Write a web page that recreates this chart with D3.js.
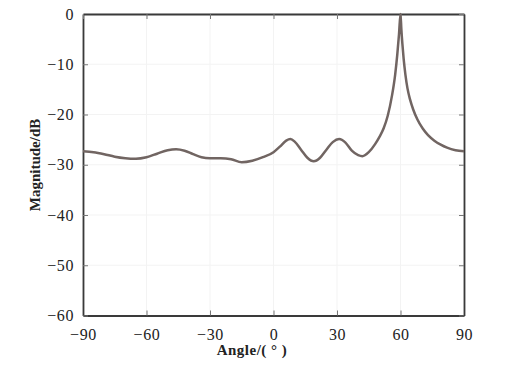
<!DOCTYPE html>
<html>
<head>
<meta charset="utf-8">
<script src="https://cdn.jsdelivr.net/npm/d3@7"></script>
<style>
  body { margin: 0; background: #fff; }
  text { font-family: "Liberation Serif", "DejaVu Serif", serif; fill: #222; }
</style>
</head>
<body>
<script>
// angles (deg) and magnitude (dB)
var angles = [-90, -85, -80, -75, -70, -65, -60, -55, -50, -46, -42, -38, -34, -30, -25, -20, -15, -10, -5,
  0, 3, 6, 8, 10, 13, 16, 19, 22, 25, 28, 31, 34, 37, 40, 42, 45, 48, 50, 52, 54, 56, 57.5, 58.5, 59.3, 60,
  60.4, 60.9, 61.5, 62.3, 63.3, 64.5, 66, 68, 70.5, 73, 76, 79, 82, 86, 90];
var magnitude = [-27.3, -27.5, -27.9, -28.4, -28.7, -28.8, -28.5, -27.8, -27.1, -26.9, -27.2, -27.9, -28.5, -28.7, -28.7, -28.9, -29.5, -29.2, -28.5,
  -27.5, -26.4, -25.2, -24.9, -25.4, -27.0, -28.6, -29.3, -28.6, -27.0, -25.5, -24.9, -25.6, -27.2, -28.1, -28.3, -27.5, -25.9, -24.5, -22.8, -20.2, -16.2, -12, -8, -4, 0,
  -3, -6, -9, -12, -14.8, -17, -19, -21, -22.8, -24.1, -25.2, -26.0, -26.6, -27.1, -27.3];
var xTicks = [-90, -60, -30, 0, 30, 60, 90];
var yTicks = [0, -10, -20, -30, -40, -50, -60];

var W = 508, H = 375;
var margin = {top: 14, right: 44, bottom: 59.5, left: 83};
var width = W - margin.left - margin.right,
    height = H - margin.top - margin.bottom;

var svg = d3.select("body").append("svg")
    .attr("width", W)
    .attr("height", H);

var g = svg.append("g")
    .attr("transform", "translate(" + margin.left + "," + margin.top + ")");

var x = d3.scaleLinear().domain([-90, 90]).range([0, width]);
var y = d3.scaleLinear().domain([-60, 0]).range([height, 0]);

var fmt = function(d) { return String(d).replace("-", "\u2212"); };

// faint grid
g.selectAll(".gx").data(xTicks).enter().append("line")
  .attr("x1", function(d){ return x(d); }).attr("x2", function(d){ return x(d); })
  .attr("y1", 0).attr("y2", height)
  .attr("stroke", "#f3f3f3").attr("stroke-width", 1);
g.selectAll(".gy").data(yTicks).enter().append("line")
  .attr("y1", function(d){ return y(d); }).attr("y2", function(d){ return y(d); })
  .attr("x1", 0).attr("x2", width)
  .attr("stroke", "#f3f3f3").attr("stroke-width", 1);

// axes, ticks inward
var axBottom = g.append("g").attr("transform", "translate(0," + height + ")")
  .call(d3.axisBottom(x).tickValues(xTicks).tickSizeInner(-5).tickSizeOuter(0).tickPadding(13).tickFormat(fmt));
var axLeft = g.append("g")
  .call(d3.axisLeft(y).tickValues(yTicks).tickSizeInner(-5).tickSizeOuter(0).tickPadding(9).tickFormat(fmt));
var axTop = g.append("g")
  .call(d3.axisTop(x).tickValues(xTicks).tickSizeInner(-5).tickSizeOuter(0).tickFormat(""));
var axRight = g.append("g").attr("transform", "translate(" + width + ",0)")
  .call(d3.axisRight(y).tickValues(yTicks).tickSizeInner(-5).tickSizeOuter(0).tickFormat(""));

[axBottom, axLeft, axTop, axRight].forEach(function(a) {
  a.selectAll("path").attr("stroke", "#3a3a3a").attr("stroke-width", 1.8);
  a.selectAll("line").attr("stroke", "#777").attr("stroke-width", 1);
  a.selectAll("text").attr("font-size", 16).attr("fill", "#222")
    .attr("letter-spacing", 0.6)
    .style("font-family", "'Liberation Serif', 'DejaVu Serif', serif");
});

// curve
var pts = angles.map(function(a, i) { return [a, magnitude[i]]; });
var line = d3.line()
  .x(function(d){ return x(d[0]); })
  .y(function(d){ return y(d[1]); })
  .curve(d3.curveMonotoneX);

g.append("path")
  .datum(pts)
  .attr("d", line)
  .attr("fill", "none")
  .attr("stroke", "#716562")
  .attr("stroke-width", 2.5)
  .attr("stroke-linejoin", "round");

// labels
svg.append("text")
  .attr("x", 252).attr("y", 355)
  .attr("text-anchor", "middle")
  .attr("font-size", 15).attr("font-weight", "bold")
  .attr("letter-spacing", 0.5)
  .text("Angle/( \u00b0 )");

svg.append("text")
  .attr("transform", "translate(40,165) rotate(-90)")
  .attr("text-anchor", "middle")
  .attr("font-size", 15).attr("font-weight", "bold")
  .text("Magnitude/dB");
</script>
</body>
</html>
